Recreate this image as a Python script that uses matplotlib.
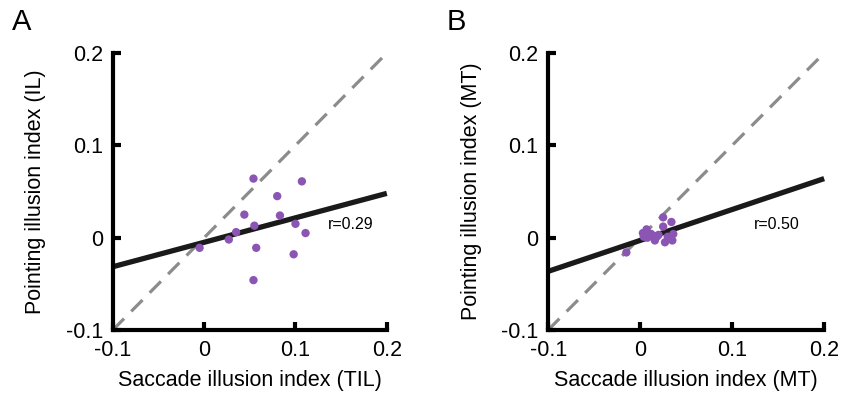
import matplotlib
matplotlib.use("Agg")
import matplotlib.pyplot as plt
import numpy as np

plt.rcParams['font.family'] = ['Liberation Sans', 'DejaVu Sans']

# panel A: saccade (TIL) vs pointing (IL)
a_x = [0.054, 0.107, 0.080, 0.044, 0.083, 0.055, 0.100, 0.035, 0.111,
       0.027, -0.005, 0.057, 0.098, 0.054]
a_y = [0.064, 0.061, 0.045, 0.025, 0.024, 0.013, 0.015, 0.006, 0.005,
       -0.002, -0.011, -0.011, -0.018, -0.046]
a_slope, a_icpt = 0.265, -0.005
a_r = "r=0.29"
a_r_pos = (0.136, 0.0145)

# panel B: saccade (MT) vs pointing (MT)
b_x = [-0.015, 0.025, 0.034, 0.025, 0.007, 0.003, 0.012, 0.036, 0.008,
       0.018, 0.027, 0.035, 0.016, 0.004, 0.010, 0.020, 0.030]
b_y = [-0.016, 0.022, 0.017, 0.012, 0.009, 0.005, 0.004, 0.004, 0.000,
       0.001, -0.005, -0.003, -0.003, 0.001, 0.003, 0.003, 0.001]
b_slope, b_icpt = 0.335, -0.003
b_r = "r=0.50"
b_r_pos = (0.124, 0.0145)

ticks = [-0.1, 0, 0.1, 0.2]
tick_labels = ["-0.1", "0", "0.1", "0.2"]
lims = (-0.1, 0.2)

purple = "#8a55b3"


def draw_panel(ax, xs, ys, slope, icpt, rtext, rpos, xlabel, ylabel):
    ax.plot(lims, lims, color="#8c8c8c", lw=2.3, dashes=(5, 3.2), zorder=1,
            clip_on=False)
    fx = np.array(lims)
    ax.plot(fx, slope * fx + icpt, color="#1a1a1a", lw=3.8, zorder=2,
            solid_capstyle="butt", clip_on=False)
    ax.scatter(xs, ys, s=36, color=purple, edgecolors="none", zorder=3,
               clip_on=False)
    ax.text(rpos[0], rpos[1], rtext, fontsize=11.5, va="center", ha="left")
    ax.set_xlim(lims)
    ax.set_ylim(lims)
    ax.set_xticks(ticks)
    ax.set_xticklabels(tick_labels)
    ax.set_yticks(ticks)
    ax.set_yticklabels(tick_labels)
    for s in ["top", "right"]:
        ax.spines[s].set_visible(False)
    for s in ["left", "bottom"]:
        ax.spines[s].set_linewidth(3)
        ax.spines[s].set_capstyle("projecting")
    ax.tick_params(direction="in", length=6, width=3, labelsize=15.5,
                   pad=7)
    ax.set_xlabel(xlabel, fontsize=15.5, labelpad=7)
    ax.set_ylabel(ylabel, fontsize=15.5, labelpad=14)
    ax.patch.set_visible(False)


fig = plt.figure(figsize=(8.42, 3.99), dpi=100)
ax_a = fig.add_axes([0.134, 0.173, 0.3254, 0.694])
ax_b = fig.add_axes([0.651, 0.173, 0.3278, 0.694])

draw_panel(ax_a, a_x, a_y, a_slope, a_icpt, a_r, a_r_pos,
           "Saccade illusion index (TIL)", "Pointing illusion index (IL)")
draw_panel(ax_b, b_x, b_y, b_slope, b_icpt, b_r, b_r_pos,
           "Saccade illusion index (MT)", "Pointing illusion index (MT)")

fig.text(0.014, 0.98, "A", fontsize=21, va="top", ha="left")
fig.text(0.531, 0.98, "B", fontsize=21, va="top", ha="left")

fig.savefig("out.png", dpi=100)
